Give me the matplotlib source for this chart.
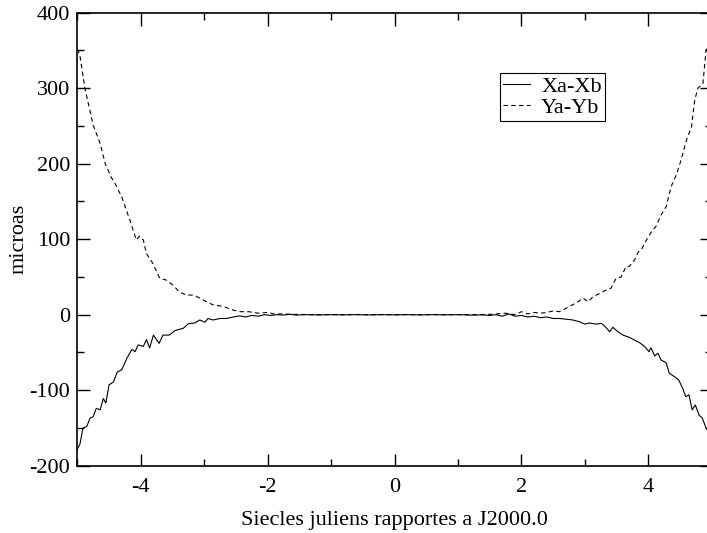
import matplotlib
matplotlib.use("Agg")
import matplotlib.pyplot as plt
from matplotlib.ticker import MultipleLocator

plt.rcParams['font.family'] = ['Liberation Serif', 'DejaVu Serif']
plt.rcParams['axes.unicode_minus'] = False

# Xa-Xb (solid)
x_xa = [-5.00, -4.96, -4.91, -4.85, -4.80, -4.75, -4.70, -4.64, -4.59, -4.55,
        -4.50, -4.43, -4.37, -4.30, -4.22, -4.14, -4.09, -4.04, -3.96, -3.91,
        -3.86, -3.80, -3.71, -3.65, -3.55, -3.46, -3.33, -3.25, -3.15, -3.07,
        -2.99, -2.94, -2.86, -2.75, -2.65, -2.54, -2.44, -2.35, -2.25, -2.15,
        -2.05, -1.95, -1.85, -1.75, -1.65, -1.55, -1.40, -1.20, -1.00, -0.80,
        -0.60, -0.40, -0.20, 0.00, 0.20, 0.40, 0.60, 0.80, 1.00, 1.20,
        1.40, 1.50, 1.60, 1.70, 1.80, 1.90, 2.00, 2.10, 2.20, 2.30,
        2.40, 2.50, 2.60, 2.71, 2.81, 2.92, 3.00, 3.07, 3.18, 3.26,
        3.31, 3.39, 3.44, 3.52, 3.60, 3.70, 3.78, 3.86, 3.94, 4.01,
        4.04, 4.10, 4.15, 4.20, 4.28, 4.33, 4.41, 4.48, 4.54, 4.59,
        4.64, 4.69, 4.74, 4.80, 4.85, 4.91, 5.00]
y_xa = [-178, -172, -150, -148, -137, -135, -124, -126, -111, -117,
        -93, -89, -76, -73, -58, -46, -49, -40, -42, -33,
        -44, -27, -38, -27, -27, -21, -18, -12, -11, -7,
        -10, -5, -7, -5, -5, -3, -1.5, -3, -1, -2,
        0, -1, 0, -0.5, 0.5, -0.5, 0, -0.3, 0, -0.2,
        0, -0.3, 0, -0.2, 0, -0.3, 0, -0.2, 0, -0.5,
        -0.3, -1, 0, -2, 1, -2, -1, -3, -2, -4,
        -3, -5, -5, -6, -7, -9.5, -12.5, -11, -12.5, -11.5,
        -15, -22.5, -16.7, -22.5, -27, -30, -33.5, -37, -42, -49,
        -43.7, -54.7, -51, -60, -63.6, -77.6, -82, -86.6, -97.5, -108.6,
        -106, -126, -119.6, -133, -137, -150, -160]

# Ya-Yb (dashed)
x_ya = [-5.00, -4.96, -4.88, -4.75, -4.64, -4.56, -4.46, -4.43, -4.30, -4.17,
        -4.07, -4.02, -3.96, -3.91, -3.81, -3.70, -3.60, -3.49, -3.39, -3.28,
        -3.17, -3.07, -2.96, -2.86, -2.70, -2.54, -2.44, -2.30, -2.15, -2.00,
        -1.90, -1.80, -1.60, -1.40, -1.20, -1.00, -0.80, -0.60, -0.40, -0.20,
        0.00, 0.20, 0.40, 0.60, 0.80, 1.00, 1.20, 1.40, 1.50, 1.60,
        1.75, 1.90, 2.00, 2.10, 2.20, 2.30, 2.40, 2.50, 2.60, 2.65,
        2.76, 2.89, 2.97, 3.05, 3.13, 3.23, 3.34, 3.41, 3.49, 3.57,
        3.65, 3.70, 3.78, 3.84, 3.89, 3.97, 4.05, 4.12, 4.20, 4.28,
        4.36, 4.44, 4.52, 4.60, 4.68, 4.73, 4.78, 4.86, 4.91, 5.00]
y_ya = [352, 344, 300, 251, 227, 200, 181, 178, 156, 125,
        99, 104, 99, 81, 68, 48, 46, 39, 30, 26,
        26, 22, 17, 13, 11, 6, 4, 4, 2, 3,
        1, 1, 0.5, 0.3, 0, 0.2, 0, 0.3, 0, 0.2,
        0, 0.2, 0, 0.3, 0, 0.2, 0, 0.3, 0.5, 1,
        2, 0, 4, 1, 3, 2, 3, 5, 4, 6,
        11, 17, 22, 17, 24, 28, 33, 35, 48, 50,
        64, 64, 72, 83, 86, 99, 110, 117, 132, 143,
        170, 185, 206, 231, 249, 284, 300, 306, 351, 360]

fig = plt.figure(figsize=(7.07, 5.33), dpi=100)
W, H = 707.0, 533.0
left_px, right_px, top_px, bot_px = 77.3, 711.8, 12.7, 465.7
ax = fig.add_axes([left_px / W, (H - bot_px) / H,
                   (right_px - left_px) / W, (bot_px - top_px) / H])

ax.plot(x_xa, y_xa, color='black', lw=0.8, label='Xa-Xb')
ax.plot(x_ya, y_ya, color='black', lw=0.8, linestyle=(0, (4, 3)), label='Ya-Yb')

ax.set_xlim(-5, 5)
ax.set_ylim(-200, 400)
ax.xaxis.set_major_locator(MultipleLocator(2))
ax.xaxis.set_minor_locator(MultipleLocator(1))
ax.yaxis.set_major_locator(MultipleLocator(100))
ax.yaxis.set_minor_locator(MultipleLocator(50))

ax.tick_params(which='both', direction='in', top=True, right=True, labelsize=16, width=1)
ax.tick_params(which='major', length=9)
ax.tick_params(which='minor', length=5)
ax.tick_params(axis='x', which='major', pad=9)
ax.tick_params(axis='y', which='major', pad=5)
for s in ax.spines.values():
    s.set_linewidth(1.2)

ax.set_xlabel('Siecles juliens rapportes a J2000.0', fontsize=16, labelpad=10)
ax.set_ylabel('microas', fontsize=16, labelpad=1)

leg = ax.legend(loc='upper left', bbox_to_anchor=(500 / W, 1 - 73.3 / H),
                bbox_transform=fig.transFigure, borderaxespad=0, fancybox=False,
                edgecolor='black', framealpha=1, fontsize=16, handlelength=1.2,
                handletextpad=0.5, labelspacing=0.0, borderpad=0.15)
leg.get_frame().set_linewidth(0.8)

fig.savefig('out.png', dpi=100)
